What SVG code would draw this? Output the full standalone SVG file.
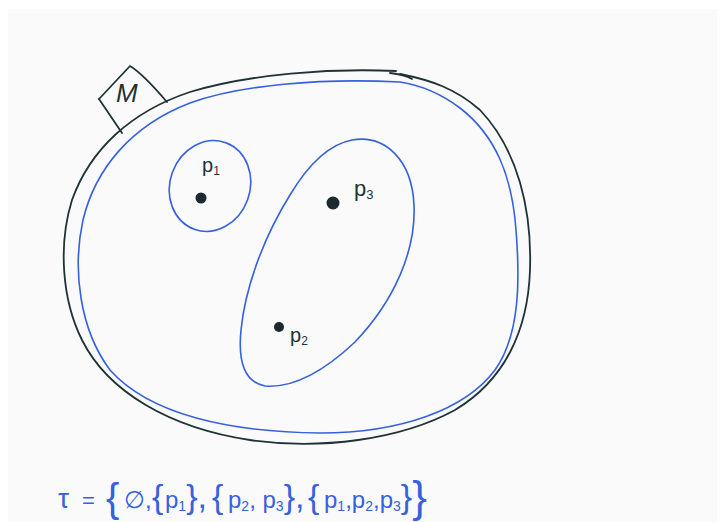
<svg xmlns="http://www.w3.org/2000/svg" width="721" height="522" viewBox="0 0 721 522">
<style>
.dark{fill:none;stroke:#1f3236;stroke-width:1.8;stroke-linecap:round;stroke-linejoin:round}
.blue{fill:none;stroke:#3560e0;stroke-width:1.6;stroke-linecap:round}
.dot{fill:#1a2a2e}
.lbl{font-family:"Liberation Sans",sans-serif;fill:#1f3236}
.eq{font-family:"Liberation Sans",sans-serif;fill:#3560e0}
</style>
<rect width="721" height="522" fill="#ffffff"/>
<rect x="8" y="9" width="709" height="513" fill="#fafafa"/>
<g id="space-M">
<path class="dark" d="M396,71 C330,68 250,74 190,92 C130,112 90,150 72,200 C58,245 62,300 82,340 C108,392 170,428 250,440 C320,450 400,440 455,410 C505,380 528,330 530,270 C532,210 518,150 480,110 C455,88 430,80 400,74"/>
<path class="dark" d="M390,73 C400,74 407,76 412,79"/>
<path class="blue" d="M400,82 C320,78 240,85 190,103 C130,126 95,170 83,220 C72,270 80,330 110,370 C150,415 230,432 320,433 C400,433 465,410 495,370 C520,335 520,280 516,230 C512,175 495,135 460,108 C440,93 420,85 400,82"/>
<path class="dark" d="M99,99 L130,66 C140,72 155,88 167,102"/>
<path class="dark" d="M99,99 L122,133"/>
<text class="lbl" x="116" y="102" font-size="26" font-style="italic">M</text>
</g>
<g id="set-p1">
<ellipse class="blue" cx="210" cy="186" rx="40" ry="46" transform="rotate(20 210 186)"/>
<circle class="dot" cx="201" cy="198" r="5.5"/>
<text class="lbl" x="202" y="172" font-size="20">p<tspan font-size="12" dy="3">1</tspan></text>
</g>
<g id="set-p2p3">
<path class="blue" d="M352,140 C385,134 412,160 414,205 C416,250 395,300 355,342 C320,375 290,388 265,386 C243,382 238,360 241,330 C245,290 262,240 290,195 C305,170 325,145 352,140 Z"/>
<circle class="dot" cx="333" cy="203" r="6.5"/>
<text class="lbl" x="354" y="196" font-size="22">p<tspan font-size="13" dy="3">3</tspan></text>
<circle class="dot" cx="279" cy="327" r="5"/>
<text class="lbl" x="290" y="342" font-size="20">p<tspan font-size="12" dy="3">2</tspan></text>
</g>
<g id="topology">
<text class="eq" y="508" font-size="28"><tspan x="58">τ</tspan><tspan x="82" font-size="22">=</tspan><tspan x="106" font-size="40" dy="4">{</tspan><tspan x="124" dy="-4" font-size="24">∅,</tspan><tspan x="152" font-size="34">{</tspan><tspan x="165" font-size="24">p</tspan><tspan font-size="14" dy="3">1</tspan><tspan font-size="34" dy="-3">},</tspan><tspan x="212" font-size="34">{</tspan><tspan x="228" font-size="24">p</tspan><tspan font-size="14" dy="3">2</tspan><tspan font-size="24" dy="-3">, p</tspan><tspan font-size="14" dy="3">3</tspan><tspan font-size="34" dy="-3">},</tspan><tspan x="308" font-size="34">{</tspan><tspan x="324" font-size="24">p</tspan><tspan font-size="14" dy="3">1</tspan><tspan font-size="24" dy="-3">,p</tspan><tspan font-size="14" dy="3">2</tspan><tspan font-size="24" dy="-3">,p</tspan><tspan font-size="14" dy="3">3</tspan><tspan font-size="34" dy="-3">}</tspan><tspan font-size="44" dy="4">}</tspan></text>
</g>
</svg>
